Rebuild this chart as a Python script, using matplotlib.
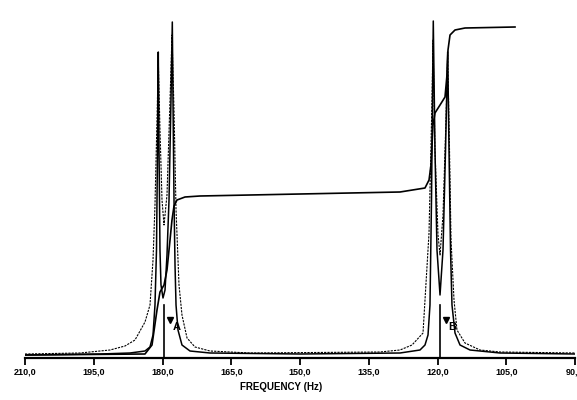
import matplotlib
matplotlib.use("Agg")
import matplotlib.pyplot as plt

# spectrum: frequency (Hz) / intensity (arb. units)
sharp_freq = [210.0, 193.64, 187.09, 183.82, 182.73, 182.07, 181.64, 181.31, 181.09, 180.92,
              180.76, 180.55, 180.33, 179.89, 179.45, 179.02, 178.58, 178.15, 177.86, 177.71,
              177.49, 177.27, 177.05, 176.62, 175.75, 174.0, 169.64, 150.0, 128.18, 123.82,
              122.73, 122.07, 121.64, 121.31, 120.92, 120.55, 120.11, 119.45, 118.8, 118.25,
              117.78, 117.49, 117.16, 116.84, 116.18, 115.09, 112.91, 106.36, 90.0]
sharp_int = [3, 4, 5, 7, 11, 23, 53, 108, 208, 306,
             208, 108, 73, 60, 68, 103, 158, 258, 336, 258,
             158, 93, 53, 28, 13, 7, 5, 4, 5, 8,
             13, 23, 53, 158, 337, 208, 108, 63, 108, 208,
             306, 208, 108, 53, 25, 13, 8, 5, 4]

broad_freq = [210.0, 198.0, 191.45, 188.18, 186.0, 183.82, 182.73, 182.07, 181.64, 181.2,
              180.92, 180.55, 180.11, 179.67, 179.02, 178.36, 177.93, 177.49, 177.05, 176.4,
              175.75, 174.65, 172.91, 169.64, 160.91, 132.55, 128.18, 125.56, 123.16, 121.85,
              121.2, 120.98, 120.55, 119.89, 119.45, 118.8, 118.15, 117.78, 117.38, 117.05,
              116.4, 115.75, 114.0, 110.73, 106.36, 90.0]
broad_int = [4, 5, 8, 12, 18, 36, 53, 98, 153, 238,
             298, 228, 158, 133, 163, 258, 323, 248, 148, 73,
             43, 20, 11, 7, 5, 6, 8, 13, 25, 125,
             258, 318, 208, 123, 103, 143, 238, 303, 208, 118,
             58, 28, 15, 8, 6, 5]

integral_freq = [210.0, 183.82, 182.29, 181.2, 180.55, 179.67, 179.02, 178.36, 177.93, 177.49,
                 176.84, 175.09, 171.82, 150.0, 128.18, 122.73, 121.85, 121.42, 120.98, 120.55,
                 119.45, 118.36, 117.93, 117.71, 117.27, 116.18, 114.0, 103.09]
integral_int = [3, 4, 13, 48, 66, 73, 88, 118, 138, 152,
                158, 161, 162, 164, 166, 170, 178, 193, 233, 245,
                253, 261, 283, 308, 323, 328, 330, 331]

# cursor markers
marker_freq = [179.67, 119.45]
marker_height = [53, 53]
marker_names = ["A", "B"]

tick_values = [210, 195, 180, 165, 150, 135, 120, 105, 90]
tick_labels = ["210,0", "195,0", "180,0", "165,0", "150,0", "135,0", "120,0", "105,0", "90,0"]

fig = plt.figure(figsize=(5.77, 4.0), dpi=100)
ax = fig.add_axes([25 / 577, 1 - 358 / 400, 550 / 577, 358 / 400])

ax.plot(broad_freq, broad_int, color="black", lw=0.8, ls=(0, (2, 1)))
ax.plot(sharp_freq, sharp_int, color="black", lw=1.1)
ax.plot(integral_freq, integral_int, color="black", lw=1.2)

for f, h, name in zip(marker_freq, marker_height, marker_names):
    ax.plot([f, f], [0, h], color="black", lw=1.2)
    ax.plot(f - 1.3, h - 15, marker="v", color="black", ms=4.5)
    ax.annotate(name, (f, h - 22), xytext=(9, 0), textcoords="offset points",
                ha="center", va="center", fontsize=8, fontweight="bold",
                family="Liberation Sans")

ax.set_xlim(210, 90)
ax.set_ylim(0, 358)
ax.set_xticks(tick_values)
ax.set_xticklabels(tick_labels, fontsize=6.5, fontweight="bold", family="Liberation Sans")
ax.set_yticks([])
for side in ["top", "left", "right"]:
    ax.spines[side].set_visible(False)
ax.spines["bottom"].set_linewidth(1.6)
ax.tick_params(axis="x", direction="out", length=5, width=1.3, pad=2)

fig.text(281 / 577, 1 - 387 / 400, "FREQUENCY (Hz)", ha="center", va="center",
         fontsize=7, fontweight="bold", family="Liberation Sans")

fig.savefig("out.png", dpi=100)
